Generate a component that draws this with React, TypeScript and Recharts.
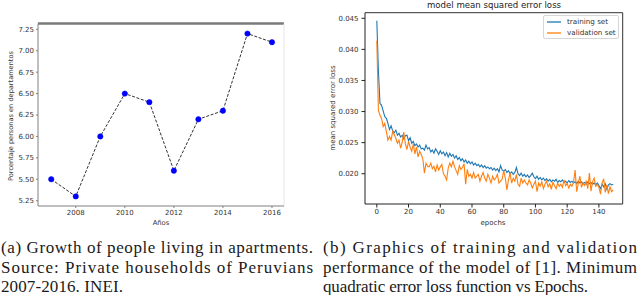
import React from 'react';
import { LineChart, Line, XAxis, YAxis, Legend, ReferenceLine } from 'recharts';

// ---- Left chart data ----
const years = [2007, 2008, 2009, 2010, 2011, 2012, 2013, 2014, 2015, 2016];
const pctApartments = [5.5, 5.3, 6.0, 6.5, 6.4, 5.6, 6.2, 6.3, 7.2, 7.1];
const yearTicks = [2008, 2010, 2012, 2014, 2016];
const pctTicks = [5.25, 5.5, 5.75, 6.0, 6.25, 6.5, 6.75, 7.0, 7.25];

// ---- Right chart data ----
const trainLoss = [
  0.0446, 0.0365, 0.0313, 0.0310, 0.0301, 0.0292, 0.0289, 0.0281, 0.0271, 0.0277,
  0.0269, 0.0266, 0.0270, 0.0262, 0.0265, 0.0259, 0.0262, 0.0256, 0.0261, 0.0262,
  0.0253, 0.0258, 0.0249, 0.0252, 0.0245, 0.0248, 0.0243, 0.0246, 0.0240, 0.0241,
  0.0238, 0.0246, 0.0240, 0.0242, 0.0235, 0.0238, 0.0233, 0.0240, 0.0236, 0.0231,
  0.0237, 0.0232, 0.0235, 0.0229, 0.0234, 0.0227, 0.0233, 0.0228, 0.0231, 0.0225,
  0.0229, 0.0223, 0.0226, 0.0221, 0.0224, 0.0219, 0.0222, 0.0217, 0.0220, 0.0216,
  0.0219, 0.0214, 0.0217, 0.0213, 0.0215, 0.0211, 0.0214, 0.0210, 0.0213, 0.0209,
  0.0211, 0.0208, 0.0210, 0.0206, 0.0209, 0.0205, 0.0208, 0.0203, 0.0213, 0.0206,
  0.0204, 0.0207, 0.0202, 0.0205, 0.0200, 0.0203, 0.0199, 0.0202, 0.0210, 0.0200,
  0.0197, 0.0201, 0.0196, 0.0199, 0.0195, 0.0198, 0.0194, 0.0197, 0.0201, 0.0195,
  0.0192, 0.0196, 0.0191, 0.0194, 0.0190, 0.0193, 0.0189, 0.0192, 0.0188, 0.0191,
  0.0187, 0.0190, 0.0188, 0.0191, 0.0186, 0.0189, 0.0187, 0.0190, 0.0186, 0.0188,
  0.0185, 0.0189, 0.0186, 0.0188, 0.0185, 0.0187, 0.0184, 0.0188, 0.0185, 0.0187,
  0.0184, 0.0186, 0.0183, 0.0187, 0.0184, 0.0186, 0.0183, 0.0185, 0.0182, 0.0185,
  0.0181, 0.0176, 0.0183, 0.0179, 0.0184, 0.0175, 0.0182, 0.0184, 0.0182, 0.0183,
];
const valLoss = [
  0.0414, 0.0302, 0.0294, 0.0289, 0.0276, 0.0281, 0.0268, 0.0254, 0.0260, 0.0254,
  0.0268, 0.0263, 0.0257, 0.0249, 0.0254, 0.0241, 0.0251, 0.0267, 0.0248, 0.0239,
  0.0252, 0.0243, 0.0236, 0.0248, 0.0232, 0.0243, 0.0227, 0.0236, 0.0231, 0.0224,
  0.0201, 0.0217, 0.0212, 0.0211, 0.0217, 0.0208, 0.0212, 0.0203, 0.0214, 0.0206,
  0.0211, 0.0215, 0.0200, 0.0196, 0.0190, 0.0209, 0.0217, 0.0211, 0.0220, 0.0211,
  0.0205, 0.0199, 0.0213, 0.0207, 0.0210, 0.0216, 0.0183, 0.0207, 0.0196, 0.0199,
  0.0193, 0.0202, 0.0193, 0.0196, 0.0199, 0.0188, 0.0196, 0.0202, 0.0193, 0.0188,
  0.0199, 0.0193, 0.0185, 0.0196, 0.0190, 0.0193, 0.0199, 0.0185, 0.0188, 0.0191,
  0.0205, 0.0193, 0.0174, 0.0190, 0.0201, 0.0185, 0.0193, 0.0188, 0.0199, 0.0183,
  0.0180, 0.0193, 0.0185, 0.0190, 0.0185, 0.0182, 0.0190, 0.0185, 0.0177, 0.0183,
  0.0188, 0.0171, 0.0185, 0.0180, 0.0187, 0.0176, 0.0183, 0.0188, 0.0179, 0.0184,
  0.0175, 0.0186, 0.0181, 0.0176, 0.0185, 0.0180, 0.0183, 0.0178, 0.0190, 0.0181,
  0.0184, 0.0177, 0.0183, 0.0180, 0.0186, 0.0206, 0.0171, 0.0184, 0.0196, 0.0178,
  0.0185, 0.0181, 0.0188, 0.0176, 0.0201, 0.0172, 0.0187, 0.0193, 0.0180, 0.0183,
  0.0178, 0.0167, 0.0185, 0.0192, 0.0170, 0.0182, 0.0168, 0.0179, 0.0171, 0.0174,
];
const epochTicks = [0, 20, 40, 60, 80, 100, 120, 140];
const lossTicks = [0.02, 0.025, 0.03, 0.035, 0.04, 0.045];

const leftData = years.map((y, i) => ({ year: y, pct: pctApartments[i] }));
const rightData = trainLoss.map((t, i) => ({ epoch: i, train: t, val: valLoss[i] }));

const SANS = '"DejaVu Sans", sans-serif';
const SERIF = "'Liberation Serif', serif";

const FreeLabel = (props: any) => {
  const { lx, ly, text, rot, size } = props;
  return (
    <text
      x={lx}
      y={ly}
      transform={rot ? `rotate(${rot}, ${lx}, ${ly})` : undefined}
      textAnchor="middle"
      dominantBaseline="central"
      fontSize={size}
      fill="#333"
      style={{ fontFamily: SANS }}
    >
      {text}
    </text>
  );
};

const LegendBox = () => (
  <div
    style={{
      width: 76,
      height: 24,
      border: '1px solid #d6d6d6',
      borderRadius: 2,
      background: 'rgba(255,255,255,0.85)',
      boxSizing: 'border-box',
      fontFamily: SANS,
      fontSize: 7.2,
      color: '#333',
      paddingTop: 1,
    }}
  >
    {[
      { name: 'training set', color: '#1f77b4' },
      { name: 'validation set', color: '#ff7f0e' },
    ].map((e) => (
      <div key={e.name} style={{ display: 'flex', alignItems: 'center', height: 10.5, lineHeight: '10px' }}>
        <svg width={22} height={10} style={{ flex: 'none' }}>
          <line x1={3} x2={17} y1={5} y2={5} stroke={e.color} strokeWidth={1.3} />
        </svg>
        <span style={{ whiteSpace: 'nowrap', marginLeft: 1 }}>{e.name}</span>
      </div>
    ))}
  </div>
);

const capLines = [
  { x: 1, y: 253, w: 312, t: '(a) Growth of people living in apartments.' },
  { x: 1, y: 272.5, w: 312, t: 'Source: Private households of Peruvians' },
  { x: 1, y: 291.5, w: 122, t: '2007-2016. INEI.' },
  { x: 323, y: 253, w: 314, t: '(b) Graphics of training and validation' },
  { x: 323, y: 272.5, w: 314, t: 'performance of the model of [1]. Minimum' },
  { x: 323, y: 291.5, w: 265, t: 'quadratic error loss function vs Epochs.' },
];

export default function App() {
  return (
    <div
      style={{
        position: 'absolute',
        left: 0,
        top: 0,
        width: 640,
        height: 295,
        background: '#fff',
        overflow: 'hidden',
      }}
    >
      {/* Left chart */}
      <div style={{ position: 'absolute', left: 0, top: 0 }}>
        <LineChart width={320} height={230} data={leftData} margin={{ top: 23.5, right: 36, bottom: 8, left: 0 }}>
          <XAxis
            dataKey="year"
            type="number"
            domain={[2006.46, 2016.49]}
            ticks={yearTicks}
            height={16}
            tickSize={2}
            tickMargin={2}
            stroke="#808080"
            tick={{ fontSize: 7, fill: '#333', fontFamily: SANS }}
            allowDataOverflow
            label={<FreeLabel lx={161} ly={222.8} text="Años" size={6.8} />}
          />
          <YAxis
            width={38}
            type="number"
            domain={[5.188, 7.318]}
            ticks={pctTicks}
            tickSize={2}
            tickMargin={2}
            stroke="#808080"
            tickFormatter={(v: number) => v.toFixed(2)}
            tick={{ fontSize: 7, fill: '#333', fontFamily: SANS }}
            allowDataOverflow
            label={<FreeLabel lx={10.5} ly={116} text="Porcentaje personas en departamentos" rot={-90} size={6.6} />}
          />
          <ReferenceLine y={7.318} stroke="#7a7a7a" strokeWidth={2.4} />
          <ReferenceLine x={2016.49} stroke="#e6e6e6" strokeWidth={1} />
          <Line
            dataKey="pct"
            stroke="#1a1a1a"
            strokeWidth={0.9}
            strokeDasharray="3 1.6"
            isAnimationActive={false}
            dot={{ r: 2.7, fill: '#0000ff', stroke: '#0000ff', strokeWidth: 0.5, strokeDasharray: '0' }}
          />
        </LineChart>
      </div>

      {/* Right chart */}
      <div style={{ position: 'absolute', left: 320, top: 0 }}>
        <LineChart width={320} height={230} data={rightData} margin={{ top: 12.7, right: 17.3, bottom: 10, left: 0 }}>
          <XAxis
            dataKey="epoch"
            type="number"
            domain={[-7.45, 155]}
            ticks={epochTicks}
            height={16}
            tickSize={3.5}
            tickMargin={2}
            stroke="#222"
            tick={{ fontSize: 7, fill: '#333', fontFamily: SANS }}
            allowDataOverflow
            label={<FreeLabel lx={173} ly={222.5} text="epochs" size={7} />}
          />
          <YAxis
            width={45}
            type="number"
            domain={[0.01513, 0.0459]}
            ticks={lossTicks}
            tickSize={3.5}
            tickMargin={3}
            stroke="#222"
            tickFormatter={(v: number) => v.toFixed(3)}
            tick={{ fontSize: 7, fill: '#333', fontFamily: SANS }}
            allowDataOverflow
            label={<FreeLabel lx={12.5} ly={108} text="mean squared error loss" rot={-90} size={7} />}
          />
          <ReferenceLine y={0.0459} stroke="#333" strokeWidth={1} />
          <ReferenceLine x={155} stroke="#333" strokeWidth={1} />
          <Line
            dataKey="train"
            name="training set"
            stroke="#1f77b4"
            strokeWidth={1.1}
            dot={false}
            isAnimationActive={false}
          />
          <Line
            dataKey="val"
            name="validation set"
            stroke="#ff7f0e"
            strokeWidth={1.1}
            dot={false}
            isAnimationActive={false}
          />
          <Legend
            layout="vertical"
            align="center"
            verticalAlign="middle"
            content={<LegendBox />}
            wrapperStyle={{ position: 'absolute', left: 223, top: 15, width: 76, height: 24, margin: 0 }}
          />
        </LineChart>
      </div>

      {/* Title and captions */}
      <svg width={640} height={295} style={{ position: 'absolute', left: 0, top: 0, pointerEvents: 'none' }}>
        <text x={494} y={5.2} textAnchor="middle" dominantBaseline="central" fontSize={8.6} fill="#222" style={{ fontFamily: SANS }}>
          model mean squared error loss
        </text>
        {capLines.map((l) => (
          <text
            key={l.t}
            x={l.x}
            y={l.y}
            fontSize={17}
            fill="#1a1a1a"
            style={{ fontFamily: SERIF }}
            textLength={l.w}
            lengthAdjust="spacing"
          >
            {l.t}
          </text>
        ))}
      </svg>
    </div>
  );
}
